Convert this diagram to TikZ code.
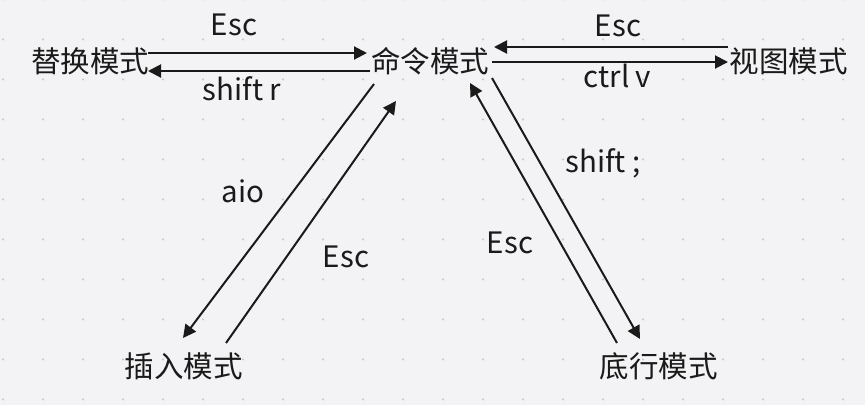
\documentclass[tikz,border=0pt]{standalone}
\usepackage{fontspec}
\setmainfont{Noto Sans CJK SC}
\usetikzlibrary{arrows.meta,calc}
\definecolor{bg}{HTML}{F3F3F5}
\definecolor{dotc}{HTML}{C6C6CA}
\definecolor{ink}{HTML}{1A1A1A}
\begin{document}
\begin{tikzpicture}[x=1pt,y=-1pt,
  mode/.style={font=\fontsize{29.5}{30}\selectfont, text=ink, inner sep=0pt, outer sep=0pt,
               text height=22.4pt, text depth=0pt, minimum height=28pt},
  lbl/.style={font=\fontsize{29.5}{30}\selectfont, text=ink, inner sep=0pt, anchor=base},
  arr/.style={draw=ink, line width=2pt, -{Triangle[length=13pt,width=13pt]}}]
\fill[bg] (0,0) rectangle (865,405);
\useasboundingbox (0,0) rectangle (865,405);
\foreach \i in {0,...,21} \foreach \j in {0,...,10} \fill[dotc] (3+40*\i, 40*\j-0.5) circle (1.1pt);

\node[mode] (rep) at (90,61.5) {替换模式};
\node[mode] (cmd) at (430,61.5) {命令模式};
\node[mode] (view) at (788.5,61) {视图模式};
\node[mode] (ins) at (183.5,366) {插入模式};
\node[mode] (bot) at (658.5,366.5) {底行模式};

\draw[arr] ($(rep.east)+(-1,-8.5)$) -- ($(cmd.west)+(-4,-8.5)$);
\draw[arr] ($(cmd.west)+(-1,9.5)$) -- ($(rep.east)+(-1,9.5)$);
\draw[arr] ($(view.west)+(-1.5,-14)$) -- ($(cmd.east)+(5,-14.5)$);
\draw[arr] ($(cmd.east)+(3,0.5)$) -- ($(view.west)+(-1.5,1)$);

\draw[arr] ($(cmd.south)+(-56,8.5)$) -- ($(ins.north)+(-0.5,-14)$);
\draw[arr] ($(ins.north)+(42.5,-9)$) -- ($(cmd.south)+(-34,25.5)$);
\draw[arr] ($(bot.north)+(-41.5,-9.5)$) -- ($(cmd.south)+(40,7.5)$);
\draw[arr] ($(cmd.south)+(62,2.5)$) -- ($(bot.north)+(-18.5,-13.5)$);

\node[lbl] (l1) at (234,35) {Esc};
\node[lbl] (l2) at (242,100) {shift r};
\node[lbl] (l3) at (618,36) {Esc};
\node[lbl] (l4) at (617.5,87) {ctrl v};
\node[lbl] (l5) at (243,202) {aio};
\node[lbl] (l6) at (346,267) {Esc};
\node[lbl] (l7) at (603,172) {shift ;};
\node[lbl] (l8) at (510,253) {Esc};
\end{tikzpicture}
\end{document}
